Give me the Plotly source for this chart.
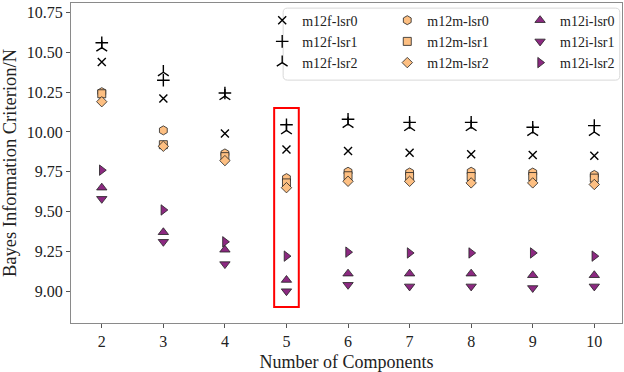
import plotly.graph_objects as go

components = [2, 3, 4, 5, 6, 7, 8, 9, 10]

m12f_lsr0 = [10.44, 10.21, 9.99, 9.89, 9.88, 9.87, 9.86, 9.855, 9.85]
m12f_lsr1 = [10.56, 10.325, 10.245, 10.045, 10.08, 10.06, 10.06, 10.03, 10.04]
m12f_lsr2 = [10.53, 10.375, 10.225, 10.01, 10.05, 10.03, 10.03, 10.00, 10.00]

m12m_lsr0 = [10.25, 10.01, 9.865, 9.71, 9.75, 9.745, 9.75, 9.745, 9.73]
m12m_lsr1 = [10.24, 9.92, 9.845, 9.68, 9.725, 9.72, 9.72, 9.72, 9.71]
m12m_lsr2 = [10.19, 9.91, 9.82, 9.65, 9.69, 9.69, 9.68, 9.68, 9.67]

m12i_lsr0 = [9.65, 9.37, 9.26, 9.07, 9.11, 9.11, 9.11, 9.10, 9.10]
m12i_lsr1 = [9.58, 9.31, 9.17, 9.00, 9.04, 9.03, 9.03, 9.02, 9.03]
m12i_lsr2 = [9.76, 9.51, 9.31, 9.22, 9.245, 9.24, 9.24, 9.24, 9.22]

y_ticks = [9.00, 9.25, 9.50, 9.75, 10.00, 10.25, 10.50, 10.75]

ORANGE = "#fdbf82"
PURPLE = "#8c2981"
FONT = "Liberation Serif"

series = [
    ("m12f-lsr0", m12f_lsr0, "x-thin", None, "legend"),
    ("m12f-lsr1", m12f_lsr1, "cross-thin", None, "legend"),
    ("m12f-lsr2", m12f_lsr2, "y-up", None, "legend"),
    ("m12m-lsr0", m12m_lsr0, "hexagon", ORANGE, "legend2"),
    ("m12m-lsr1", m12m_lsr1, "square", ORANGE, "legend2"),
    ("m12m-lsr2", m12m_lsr2, "diamond", ORANGE, "legend2"),
    ("m12i-lsr0", m12i_lsr0, "triangle-up", PURPLE, "legend3"),
    ("m12i-lsr1", m12i_lsr1, "triangle-down", PURPLE, "legend3"),
    ("m12i-lsr2", m12i_lsr2, "triangle-right", PURPLE, "legend3"),
]

fig = go.Figure()
for name, vals, sym, col, leg in series:
    if col is None:
        sz = 8 if sym == "x-thin" else 9
        marker = dict(symbol=sym, size=sz, color="black",
                      line=dict(color="black", width=1.4))
    else:
        sz = 8 if sym in ("square", "diamond") else 9
        marker = dict(symbol=sym, size=sz, color=col,
                      line=dict(color="#222222", width=0.8))
    fig.add_trace(go.Scatter(x=components, y=vals, mode="markers", name=name,
                             marker=marker, legend=leg))

# red highlight box around 5 components
fig.add_shape(type="rect", xref="x", yref="y", x0=4.8, x1=5.2, y0=8.9, y1=10.15,
              line=dict(color="red", width=2), fillcolor="rgba(0,0,0,0)")

# rounded legend frame
lx0, lx1, ly0, ly1 = 0.385, 0.996, 0.759, 0.984
rx, ry = 0.008, 0.014
path = (f"M{lx0+rx},{ly0} L{lx1-rx},{ly0} Q{lx1},{ly0} {lx1},{ly0+ry} "
        f"L{lx1},{ly1-ry} Q{lx1},{ly1} {lx1-rx},{ly1} L{lx0+rx},{ly1} "
        f"Q{lx0},{ly1} {lx0},{ly1-ry} L{lx0},{ly0+ry} Q{lx0},{ly0} {lx0+rx},{ly0} Z")
fig.add_shape(type="path", xref="paper", yref="paper", path=path,
              line=dict(color="#d8d8d8", width=1), fillcolor="rgba(255,255,255,0.8)",
              layer="above")

axis_common = dict(showgrid=False, zeroline=False, showline=True, mirror=True,
                   linecolor="#8a8a8a", linewidth=1.2, ticks="outside",
                   ticklen=4, tickcolor="#555555",
                   tickfont=dict(family=FONT, size=16, color="#222222"))

fig.update_xaxes(range=[1.5, 10.45], tickvals=components,
                 title=dict(text="Number of Components", standoff=6,
                            font=dict(family=FONT, size=18, color="#222222")),
                 **axis_common)
fig.update_yaxes(range=[8.8, 10.81], tickvals=y_ticks, tickformat=".2f",
                 title=dict(text="Bayes Information Criterion/N", standoff=9,
                            font=dict(family=FONT, size=18.5, color="#222222")),
                 **axis_common)

leg_common = dict(orientation="v", xanchor="left", yanchor="top", y=0.995,
                  bgcolor="rgba(0,0,0,0)", borderwidth=0, tracegroupgap=0,
                  font=dict(family=FONT, size=14, color="#222222"))

fig.update_layout(
    width=624, height=372,
    margin=dict(l=71, r=2, t=3, b=49),
    plot_bgcolor="white", paper_bgcolor="white",
    font=dict(family=FONT, size=14, color="#222222"),
    legend=dict(x=0.347, **leg_common),
    legend2=dict(x=0.574, **leg_common),
    legend3=dict(x=0.815, **leg_common),
    showlegend=True,
)

fig.write_html("out.html")
